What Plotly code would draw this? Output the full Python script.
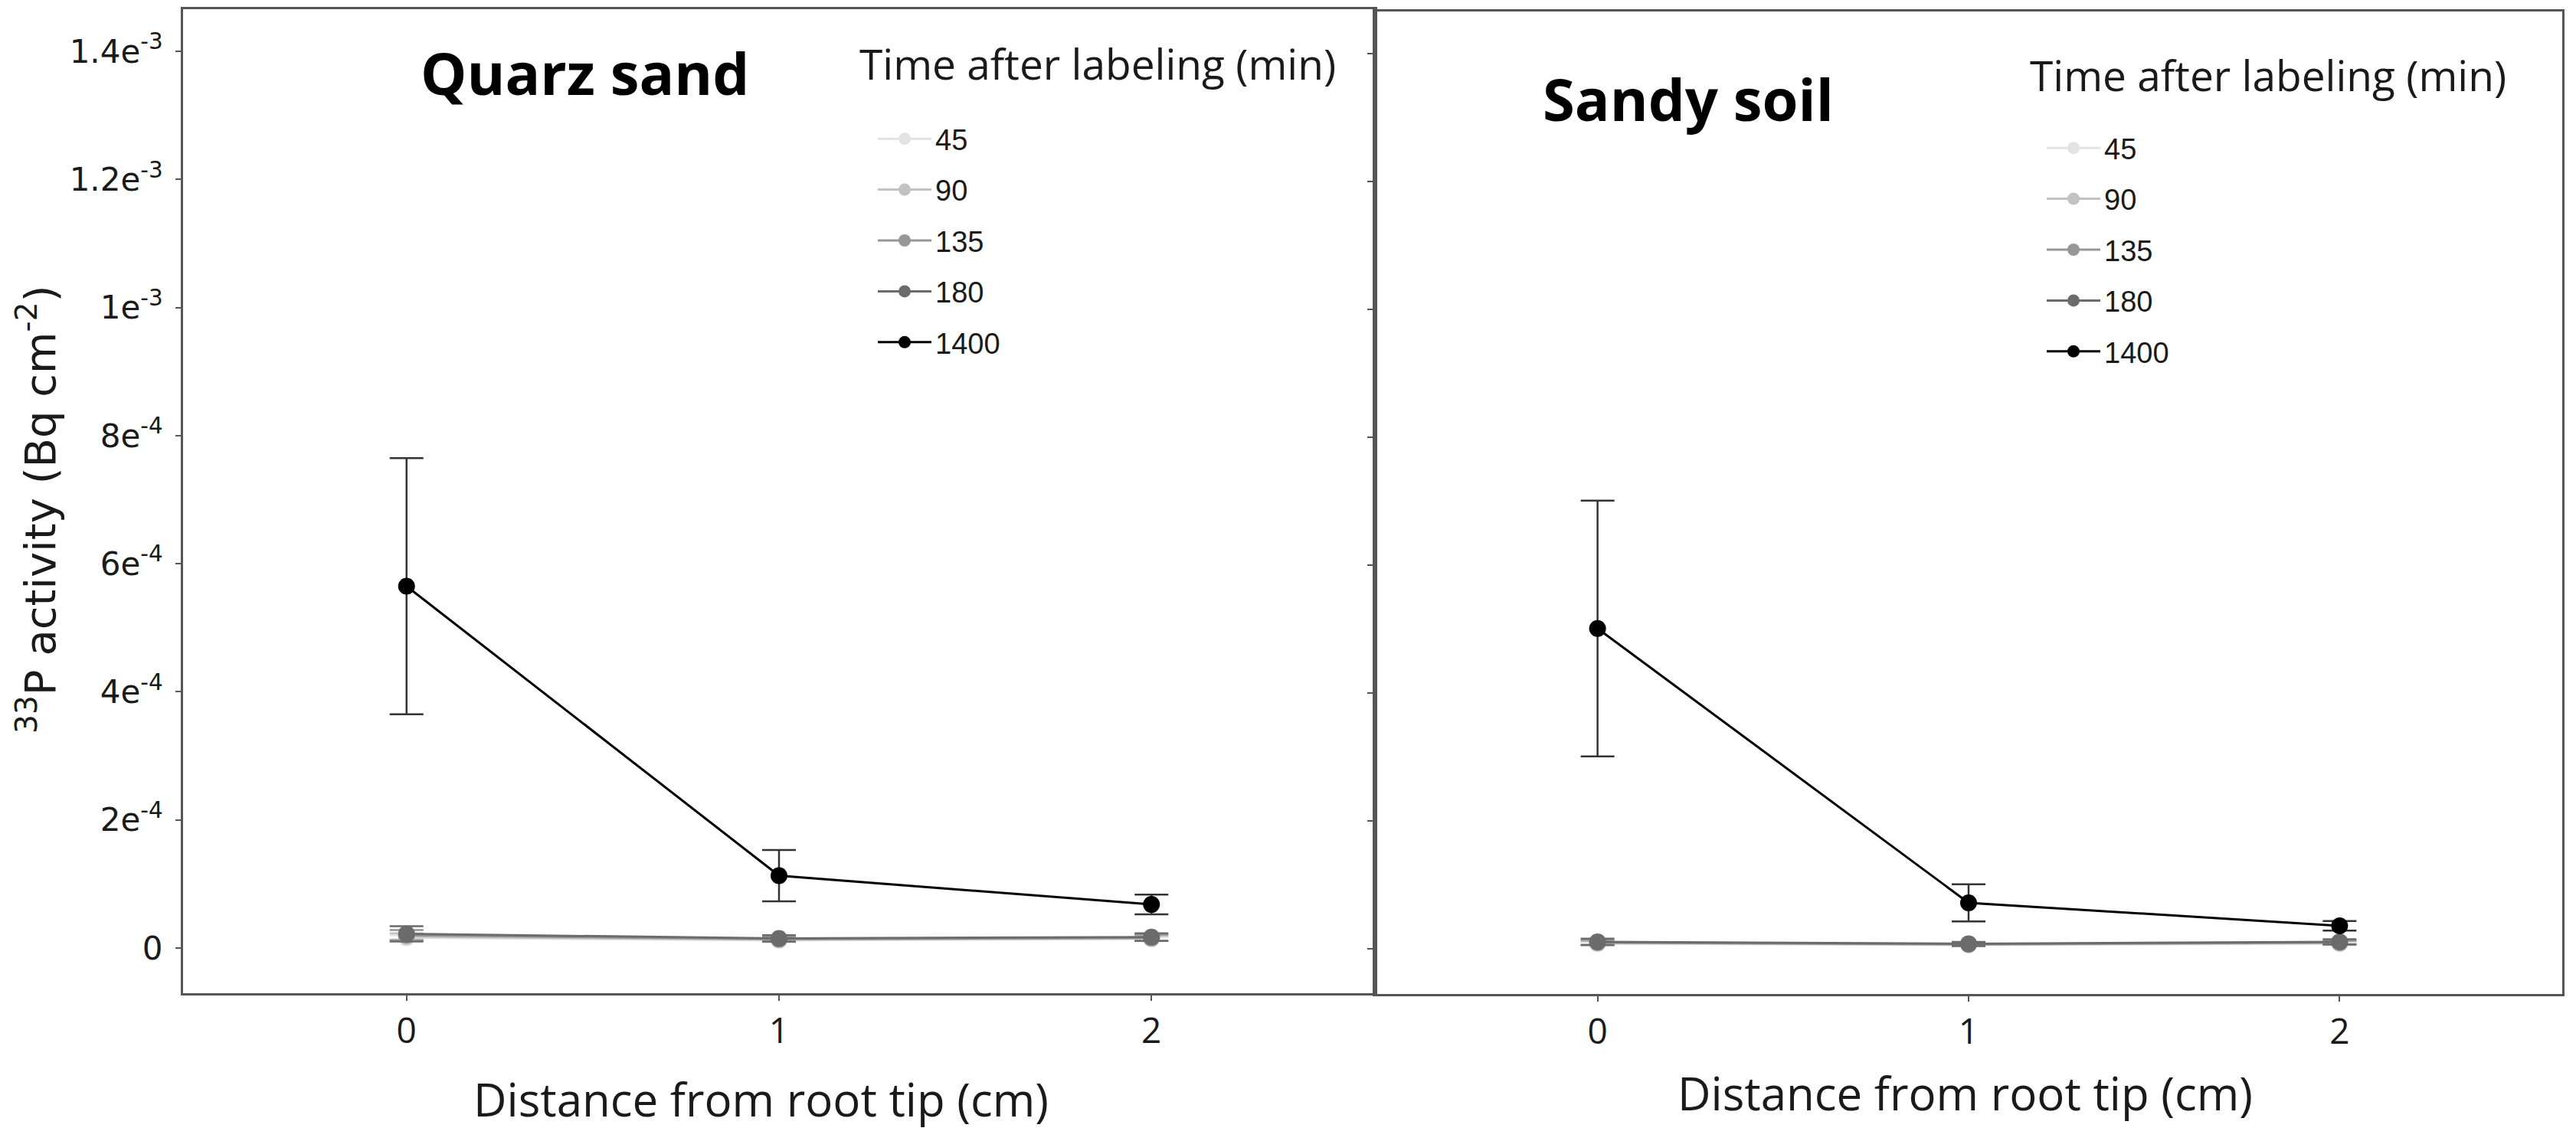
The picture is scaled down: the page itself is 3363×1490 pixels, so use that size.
import plotly.graph_objects as go

# ---------------- data ----------------
distance = [0, 1, 2]
times = ["45", "90", "135", "180", "1400"]
colors = ["#e3e3e3", "#c2c2c2", "#979797", "#6b6b6b", "#000000"]

# Quarz sand (mean, error)
quarz_45 = [1.6e-5, 1.2e-5, 1.4e-5]
quarz_90 = [1.8e-5, 1.3e-5, 1.5e-5]
quarz_135 = [2.0e-5, 1.4e-5, 1.6e-5]
quarz_180 = [2.2e-5, 1.5e-5, 1.7e-5]
quarz_1400 = [5.65e-4, 1.13e-4, 0.68e-4]
quarz_err_45 = [0.4e-5, 0.3e-5, 0.3e-5]
quarz_err_90 = [0.5e-5, 0.3e-5, 0.4e-5]
quarz_err_135 = [0.8e-5, 0.4e-5, 0.5e-5]
quarz_err_180 = [1.2e-5, 0.5e-5, 0.6e-5]
quarz_err_1400 = [2.0e-4, 0.40e-4, 0.155e-4]

# Sandy soil (mean, error)
sandy_45 = [0.8e-5, 0.6e-5, 0.8e-5]
sandy_90 = [0.9e-5, 0.7e-5, 0.9e-5]
sandy_135 = [1.0e-5, 0.7e-5, 1.0e-5]
sandy_180 = [1.1e-5, 0.8e-5, 1.1e-5]
sandy_1400 = [5.01e-4, 0.72e-4, 0.36e-4]
sandy_err_45 = [0.3e-5, 0.2e-5, 0.2e-5]
sandy_err_90 = [0.3e-5, 0.2e-5, 0.3e-5]
sandy_err_135 = [0.4e-5, 0.3e-5, 0.3e-5]
sandy_err_180 = [0.5e-5, 0.3e-5, 0.4e-5]
sandy_err_1400 = [2.0e-4, 0.29e-4, 0.075e-4]

y_tickvals = [0, 2e-4, 4e-4, 6e-4, 8e-4, 1e-3, 1.2e-3, 1.4e-3]
y_ticktext = ["0", "2e<sup>-4</sup>", "4e<sup>-4</sup>", "6e<sup>-4</sup>", "8e<sup>-4</sup>",
              "1e<sup>-3</sup>", "1.2e<sup>-3</sup>", "1.4e<sup>-3</sup>"]
x_tickvals = [0, 1, 2]

panel_titles = ["Quarz sand", "Sandy soil"]
legend_title = "Time after labeling (min)"
x_title = "Distance from root tip (cm)"
y_title = "<sup>33</sup>P activity (Bq cm<sup>-2</sup>)"

quarz_means = [quarz_45, quarz_90, quarz_135, quarz_180, quarz_1400]
quarz_errs = [quarz_err_45, quarz_err_90, quarz_err_135, quarz_err_180, quarz_err_1400]
sandy_means = [sandy_45, sandy_90, sandy_135, sandy_180, sandy_1400]
sandy_errs = [sandy_err_45, sandy_err_90, sandy_err_135, sandy_err_180, sandy_err_1400]

W, H = 3363, 1490

fig = go.Figure()


def add_panel(means, errs, xa, ya, legend_name):
    for i, t in enumerate(times):
        col = colors[i]
        is_big = (t == "1400")
        fig.add_trace(go.Scatter(
            x=distance, y=means[i],
            mode="lines+markers",
            name=t,
            legend=legend_name,
            legendgroup=legend_name + t,
            xaxis=xa, yaxis=ya,
            line=dict(color=col, width=3),
            marker=dict(color=col, size=22),
            error_y=dict(type="data", array=errs[i], visible=True,
                         color="#333333" if is_big else col,
                         thickness=2.5, width=22),
        ))


add_panel(quarz_means, quarz_errs, "x", "y", "legend")
add_panel(sandy_means, sandy_errs, "x2", "y2", "legend2")

axis_line = dict(showline=True, linecolor="#555555", linewidth=3, mirror=True,
                 showgrid=False, zeroline=False, ticks="outside", tickcolor="#555555",
                 ticklen=7, tickwidth=2)

yr = [-0.7057e-4, 14.66e-4]

legend_common = dict(
    font=dict(family="Liberation Sans", size=38, color="#1a1a1a"),
    xanchor="left", yanchor="top",
    bgcolor="rgba(0,0,0,0)", borderwidth=0,
    tracegroupgap=14, itemwidth=70, itemsizing="trace",
)

fig.update_layout(
    width=W, height=H,
    margin=dict(l=0, r=0, t=0, b=0),
    paper_bgcolor="white", plot_bgcolor="white",
    showlegend=True,
    xaxis=dict(domain=[239 / W, 1795 / W], range=[-0.6, 2.6], tickvals=x_tickvals,
               tickfont=dict(family="Open Sans", size=46, color="#1a1a1a"),
               anchor="y", **axis_line),
    yaxis=dict(domain=[1 - 1297 / H, 1 - 12 / H], range=yr, tickvals=y_tickvals,
               ticktext=y_ticktext, ticklabelstandoff=8,
               tickfont=dict(family="DejaVu Sans", size=42, color="#1a1a1a"),
               anchor="x", **axis_line),
    xaxis2=dict(domain=[1795 / W, 3345 / W], range=[-0.6, 2.6], tickvals=x_tickvals,
                tickfont=dict(family="Open Sans", size=46, color="#1a1a1a"),
                anchor="y2", **axis_line),
    yaxis2=dict(domain=[1 - 1298 / H, 1 - 15 / H], range=yr, tickvals=y_tickvals,
                showticklabels=False, anchor="x2", **axis_line),
    legend=dict(x=1141 / W, y=1 - 150 / H, **legend_common),
    legend2=dict(x=2667 / W, y=1 - 162 / H, **legend_common),
)

annots = [
    dict(text="<b>" + panel_titles[0] + "</b>", x=763 / W, y=1 - 95 / H, xanchor="center",
         font=dict(family="Open Sans", size=76, color="#000000")),
    dict(text="<b>" + panel_titles[1] + "</b>", x=2204 / W, y=1 - 128 / H, xanchor="center",
         font=dict(family="Open Sans", size=76, color="#000000")),
    dict(text=legend_title, x=1120 / W, y=1 - 82 / H, xanchor="left",
         font=dict(family="Open Sans", size=55, color="#1a1a1a")),
    dict(text=legend_title, x=2648 / W, y=1 - 97 / H, xanchor="left",
         font=dict(family="Open Sans", size=55, color="#1a1a1a")),
    dict(text=x_title, x=993 / W, y=1 - 1435 / H, xanchor="center",
         font=dict(family="Open Sans", size=60, color="#1a1a1a")),
    dict(text=x_title, x=2565 / W, y=1 - 1427 / H, xanchor="center",
         font=dict(family="Open Sans", size=60, color="#1a1a1a")),
    dict(text=y_title, x=48 / W, y=1 - 665 / H, textangle=-90, xanchor="center",
         font=dict(family="DejaVu Sans", size=56, color="#1a1a1a")),
]
for a in annots:
    fig.add_annotation(xref="paper", yref="paper", showarrow=False,
                       yanchor="middle", **a)

fig.write_html("out.html", config={"displayModeBar": False},
               post_script="document.body.style.margin='0';")
